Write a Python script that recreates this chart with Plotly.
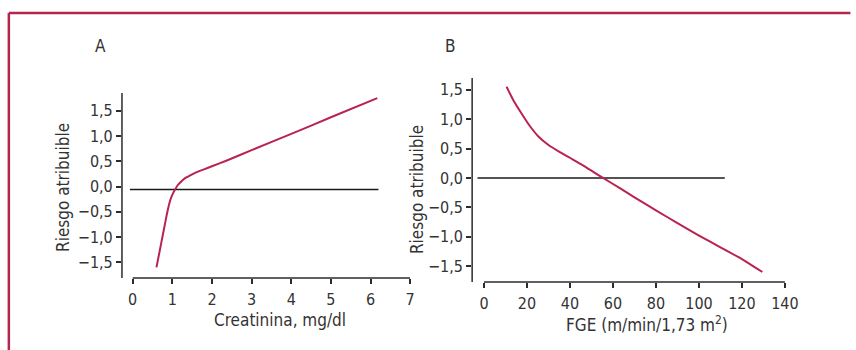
import plotly.graph_objects as go

W, H = 856, 350

# ---------------- data ----------------
creat_x = [0.60, 0.68, 0.75, 0.82, 0.87, 0.93, 0.97, 1.02, 1.07, 1.13, 1.20, 1.28, 1.35, 1.45, 1.60, 1.80,
           2.00, 2.36, 3.0, 4.0, 5.0, 6.17]
creat_y = [-1.60, -1.28, -1.00, -0.72, -0.52, -0.32, -0.22, -0.13, -0.06, 0.02, 0.08, 0.14, 0.18, 0.22, 0.28, 0.34,
           0.40, 0.51, 0.72, 1.04, 1.37, 1.75]
ref_a_x = [-0.07, 6.2]
ref_a_y = [-0.06, -0.06]

fge_x = [10.5, 14.0, 17.4, 21.0, 25.2, 30.0, 35.7, 41.0, 46.2, 51.0, 55.4, 63.0, 70.0, 80.0, 90.0, 100.0,
         110.0, 120.0, 129.5]
fge_y = [1.55, 1.30, 1.10, 0.90, 0.71, 0.56, 0.43, 0.32, 0.21, 0.10, 0.00, -0.17, -0.33, -0.55, -0.77, -0.98,
         -1.18, -1.38, -1.60]
ref_b_x = [-3, 112]
ref_b_y = [0, 0]

y_tickvals = [1.5, 1.0, 0.5, 0.0, -0.5, -1.0, -1.5]
y_ticktext = ["1,5", "1,0", "0,5", "0,0", "\u22120,5", "\u22121,0", "\u22121,5"]
xa_tickvals = [0, 1, 2, 3, 4, 5, 6, 7]
xb_tickvals = [0, 20, 40, 60, 80, 100, 120, 140]

RED = "#b8234f"
AX = "#2b2b2b"
FONT = "DejaVu Sans Condensed, Liberation Sans, sans-serif"
FS_TICK = 16
FS_TITLE = 17

def px_x(p):
    return p / W

def px_y(p):
    return 1 - p / H

fig = go.Figure()
fig.add_trace(go.Scatter(x=ref_a_x, y=ref_a_y, mode="lines",
                         line=dict(color="#1a1a1a", width=1.5), xaxis="x", yaxis="y", showlegend=False))
fig.add_trace(go.Scatter(x=creat_x, y=creat_y, mode="lines", line_shape="spline",
                         line=dict(color=RED, width=2, smoothing=0.6), xaxis="x", yaxis="y", showlegend=False))
fig.add_trace(go.Scatter(x=ref_b_x, y=ref_b_y, mode="lines",
                         line=dict(color="#1a1a1a", width=1.5), xaxis="x2", yaxis="y2", showlegend=False))
fig.add_trace(go.Scatter(x=fge_x, y=fge_y, mode="lines", line_shape="spline",
                         line=dict(color=RED, width=2, smoothing=0.6), xaxis="x2", yaxis="y2", showlegend=False))

common_tick = dict(ticks="outside", ticklen=5, tickwidth=1.5, tickcolor=AX,
                   showline=False, showgrid=False, zeroline=False,
                   tickfont=dict(family=FONT, size=FS_TICK, color="#333"), fixedrange=True)

fig.update_layout(
    width=W, height=H, margin=dict(l=0, r=0, t=0, b=0),
    paper_bgcolor="white", plot_bgcolor="white",
    xaxis=dict(domain=[px_x(124), px_x(417)], range=[-0.27, 7.0],
               tickvals=xa_tickvals, anchor="y", ticklabelstandoff=2, **common_tick),
    yaxis=dict(domain=[px_y(278), px_y(93)], range=[-1.81, 1.85],
               tickvals=y_tickvals, ticktext=y_ticktext, anchor="x", ticklabelstandoff=0, **common_tick),
    xaxis2=dict(domain=[px_x(480), px_x(798)], range=[-5.5, 140],
                tickvals=xb_tickvals, anchor="y2", ticklabelstandoff=2, **common_tick),
    yaxis2=dict(domain=[px_y(282), px_y(78)], range=[-1.77, 1.70],
                tickvals=y_tickvals, ticktext=y_ticktext, anchor="x2", ticklabelstandoff=0, **common_tick),
)

shapes = []
# axis spines
for xa, ya, x1 in (("x", "y", 7), ("x2", "y2", 140)):
    shapes.append(dict(type="line", xref=xa, yref=ya + " domain", x0=0, x1=x1, y0=0, y1=0,
                       line=dict(color=AX, width=1.5)))
    shapes.append(dict(type="line", xref=xa + " domain", yref=ya + " domain", x0=0, x1=0, y0=0, y1=1,
                       line=dict(color=AX, width=1.5)))
# outer frame
shapes.append(dict(type="line", xref="paper", yref="paper", x0=px_x(9), x1=1.01, y0=px_y(13), y1=px_y(13),
                   line=dict(color="#b3264f", width=2.5)))
shapes.append(dict(type="line", xref="paper", yref="paper", x0=px_x(9), x1=px_x(9), y0=px_y(13), y1=-0.02,
                   line=dict(color="#b3264f", width=2.5)))
fig.update_layout(shapes=shapes)

tf = dict(family=FONT, size=FS_TITLE, color="#333")
ann = [
    dict(text="A", x=px_x(102), y=px_y(46)),
    dict(text="B", x=px_x(458), y=px_y(46)),
    dict(text="Creatinina, mg/dl", x=px_x(285), y=px_y(320)),
    dict(text="FGE (m/min/1,73 m<sup>2</sup>)", x=px_x(658), y=px_y(324)),
    dict(text="Riesgo atribuible", x=px_x(64), y=px_y(187), textangle=-90),
    dict(text="Riesgo atribuible", x=px_x(424), y=px_y(190), textangle=-90),
]
for a in ann:
    a.update(xref="paper", yref="paper", showarrow=False, xanchor="center", yanchor="middle", font=tf)
fig.update_layout(annotations=ann)

fig.write_html("out.html")
